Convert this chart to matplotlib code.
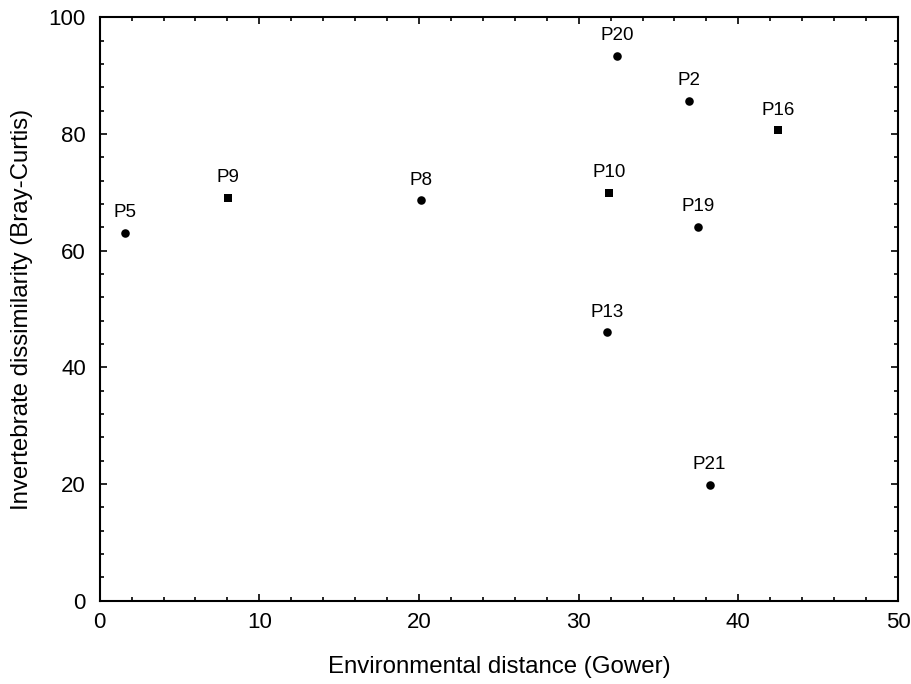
import matplotlib
matplotlib.use("Agg")
import matplotlib.pyplot as plt
from matplotlib.ticker import MultipleLocator

plt.rcParams['font.family'] = ['Liberation Sans', 'DejaVu Sans']

labels = ["P5", "P9", "P8", "P20", "P2", "P16", "P10", "P19", "P13", "P21"]
env_dist = [1.6, 8.05, 20.1, 32.4, 36.9, 42.5, 31.9, 37.5, 31.8, 38.2]
dissim = [63.1, 69.0, 68.6, 93.4, 85.7, 80.6, 69.9, 64.1, 46.0, 19.8]
markers = ["o", "s", "o", "o", "o", "s", "s", "o", "o", "o"]

fig = plt.figure(figsize=(9.12, 6.84), dpi=100)
ax = fig.add_axes([0.1093, 0.1218, 0.8753, 0.8529])

for x, y, m, lab in zip(env_dist, dissim, markers, labels):
    ax.scatter([x], [y], marker=m, s=38 if m == "o" else 26, color="black",
               linewidths=0, zorder=3)
    ax.annotate(lab, (x, y), xytext=(0, 8.5), textcoords="offset points",
                ha="center", va="bottom", fontsize=13.5)

ax.set_xlim(0, 50)
ax.set_ylim(0, 100)
ax.xaxis.set_major_locator(MultipleLocator(10))
ax.xaxis.set_minor_locator(MultipleLocator(2))
ax.yaxis.set_major_locator(MultipleLocator(20))
ax.yaxis.set_minor_locator(MultipleLocator(4))
ax.tick_params(which="both", direction="in", top=True, right=True, labelsize=16, width=1.2)
ax.tick_params(which="major", length=5)
ax.tick_params(axis="x", which="major", pad=8)
ax.tick_params(axis="y", which="major", pad=10)
ax.tick_params(which="minor", length=3)
for s in ax.spines.values():
    s.set_linewidth(1.5)

ax.set_xlabel("Environmental distance (Gower)", fontsize=17.3, va="center")
ax.set_ylabel("Invertebrate dissimilarity (Bray-Curtis)", fontsize=17.3, va="center")
ax.xaxis.set_label_coords(0.5, -0.113)
ax.yaxis.set_label_coords(-0.0973, 0.5)

fig.savefig("out.png", dpi=100)
